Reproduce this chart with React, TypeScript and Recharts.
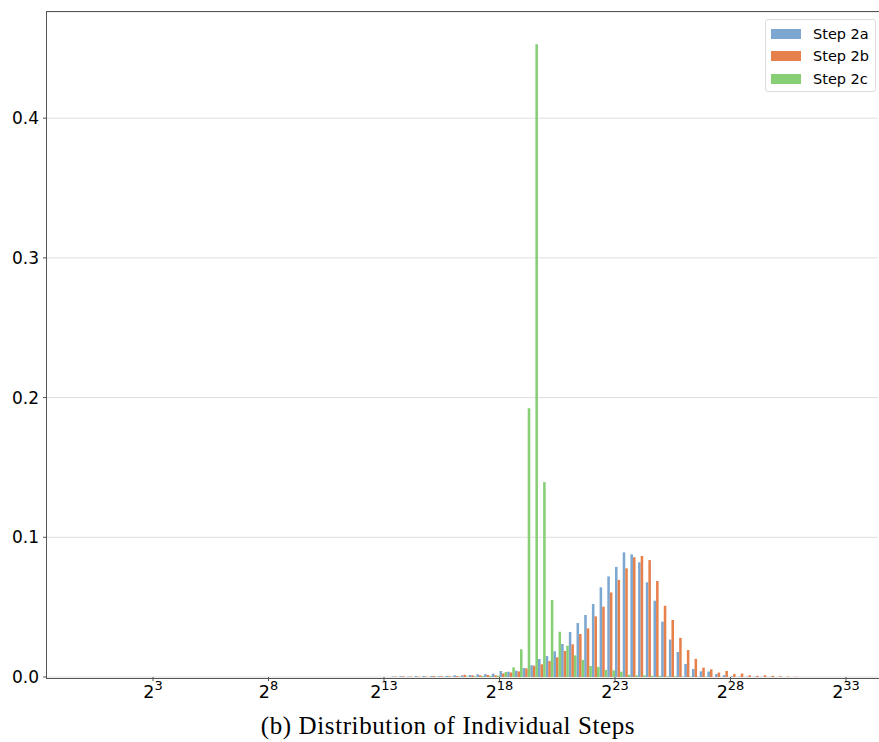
import React from 'react';
import { BarChart, Bar, XAxis, YAxis, CartesianGrid } from 'recharts';

// histogram bins: 98 bins of width 1/3 on the log2 scale, starting at 2^0
const BIN_COUNT = 98;
const BIN_WIDTH = 1 / 3;

// bin 0..39 are empty in every series, values listed from bin 0
const step2a = [
  0, 0, 0, 0, 0, 0, 0, 0, 0, 0, 0, 0, 0, 0,
  0, 0, 0, 0, 0, 0, 0, 0, 0, 0, 0, 0, 0, 0,
  0, 0, 0, 0, 0, 0, 0, 0, 0, 0, 0, 0,
  0.0003, 0.0005, 0.0003, 0.0007, 0.0007, 0.0007, 0.0005, 0.0007, 0.0012, 0.0012,
  0.0014, 0.0019, 0.0021, 0.0024, 0.0043, 0.0038, 0.0045, 0.0064, 0.0084, 0.0129,
  0.015, 0.0184, 0.0236, 0.0322, 0.0386, 0.0444, 0.0522, 0.0642, 0.072, 0.0788,
  0.0892, 0.0878, 0.0821, 0.0678, 0.0546, 0.0396, 0.0268, 0.0179, 0.0093, 0.0057,
  0.0041, 0.0039, 0.0021, 0.0013, 0.0005, 0.0003, 0.0002, 0.0002, 0.0001, 0.0001,
  0, 0, 0, 0, 0, 0, 0, 0,
];

const step2b = [
  0, 0, 0, 0, 0, 0, 0, 0, 0, 0, 0, 0, 0, 0,
  0, 0, 0, 0, 0, 0, 0, 0, 0, 0, 0, 0, 0, 0,
  0, 0, 0, 0, 0, 0, 0, 0, 0, 0, 0, 0,
  0.0003, 0.0005, 0.0003, 0.0003, 0.0003, 0.0007, 0.0005, 0.0005, 0.0007, 0.0016,
  0.0012, 0.0012, 0.0014, 0.0012, 0.0026, 0.0033, 0.004, 0.0062, 0.0081, 0.0091,
  0.0114, 0.0141, 0.0186, 0.0234, 0.0308, 0.0348, 0.0434, 0.0503, 0.0605, 0.0695,
  0.0778, 0.0857, 0.0866, 0.0837, 0.0687, 0.051, 0.0408, 0.028, 0.0193, 0.013,
  0.0067, 0.0055, 0.0032, 0.0043, 0.0021, 0.0025, 0.0012, 0.0008, 0.0012, 0.0008,
  0.0005, 0.0003, 0.0002, 0, 0, 0, 0, 0,
];

const step2c = [
  0, 0, 0, 0, 0, 0, 0, 0, 0, 0, 0, 0, 0, 0,
  0, 0, 0, 0, 0, 0, 0, 0, 0, 0, 0, 0, 0, 0,
  0, 0, 0, 0, 0, 0, 0, 0, 0, 0, 0, 0,
  0, 0, 0, 0, 0, 0.0002, 0.0002, 0.0002, 0.0003, 0.0003,
  0.0005, 0.0007, 0.0007, 0.001, 0.0036, 0.0069, 0.0198, 0.1923, 0.453, 0.1395,
  0.0551, 0.0324, 0.0224, 0.0155, 0.0122, 0.0079, 0.0072, 0.005, 0.0047, 0.0038,
  0.0016, 0.0012, 0.0012, 0.0008, 0.0008, 0.0005, 0.0005, 0.0003, 0.0003, 0.0002,
  0.0002, 0, 0, 0, 0, 0, 0, 0, 0, 0,
  0, 0, 0, 0, 0, 0, 0, 0,
];

const seriesNames = ['Step 2a', 'Step 2b', 'Step 2c'];
const seriesColors = ['#7ba7d1', '#e6814c', '#87cf75'];

const xTicks = [3, 8, 13, 18, 23, 28, 33];
const yTicks = [0, 0.1, 0.2, 0.3, 0.4];

const data = Array.from({ length: BIN_COUNT }, (_, i) => ({
  e: i * BIN_WIDTH + BIN_WIDTH / 2,
  a: step2a[i],
  b: step2b[i],
  c: step2c[i],
}));

const W = 879;
const H = 742;
const PLOT = { left: 47, top: 12, right: 878, bottom: 677 };

const PowerTick = (props: any) => {
  const { x, y, payload } = props;
  return (
    <text x={x} y={y + 15} textAnchor="middle" fill="#000" fontFamily="'DejaVu Sans', sans-serif" fontSize={17.5}>
      <tspan>2</tspan>
      <tspan dy={-8} fontSize={13}>{payload.value}</tspan>
    </text>
  );
};

export default function App() {
  return (
    <div style={{ position: 'absolute', left: 0, top: 0, width: W, height: H, background: '#fff' }}>
      <BarChart
        width={W}
        height={H}
        data={data}
        margin={{ top: PLOT.top, right: W - PLOT.right, bottom: 35, left: 0 }}
        barGap={0}
        barSize={2.55}
      >
        <CartesianGrid vertical={false} stroke="#dedede" strokeWidth={1} />
        <XAxis
          dataKey="e"
          type="number"
          domain={[-1.589, 34.385]}
          allowDataOverflow
          ticks={xTicks}
          tick={<PowerTick />}
          tickSize={4}
          tickLine={{ stroke: '#555' }}
          axisLine={false}
          height={30}
        />
        <YAxis
          domain={[0, 0.476]}
          allowDataOverflow
          ticks={yTicks}
          tickFormatter={(v: number) => v.toFixed(1)}
          tick={{ fill: '#000', fontSize: 17, fontFamily: "'DejaVu Sans', sans-serif" }}
          tickSize={4}
          tickMargin={4}
          tickLine={{ stroke: '#555' }}
          axisLine={false}
          width={PLOT.left}
        />
        <Bar dataKey="a" name={seriesNames[0]} fill={seriesColors[0]} isAnimationActive={false} />
        <Bar dataKey="b" name={seriesNames[1]} fill={seriesColors[1]} isAnimationActive={false} />
        <Bar dataKey="c" name={seriesNames[2]} fill={seriesColors[2]} isAnimationActive={false} />
      </BarChart>

      {/* axes frame */}
      <div
        style={{
          position: 'absolute',
          left: PLOT.left - 1,
          top: PLOT.top - 1,
          width: PLOT.right - PLOT.left + 1,
          height: PLOT.bottom - PLOT.top + 1,
          border: '1px solid #555',
          pointerEvents: 'none',
        }}
      />

      {/* legend */}
      <div
        style={{
          position: 'absolute',
          left: 765,
          top: 19,
          width: 109,
          height: 71,
          border: '1px solid #dcdcdc',
          borderRadius: 3,
          background: 'rgba(255,255,255,0.8)',
          fontFamily: "'DejaVu Sans', sans-serif",
          fontSize: 14.5,
          color: '#000',
        }}
      >
        {seriesNames.map((name, i) => (
          <div
            key={name}
            style={{ position: 'absolute', left: 5, top: 7 + i * 22.3, height: 14, display: 'flex', alignItems: 'center' }}
          >
            <div style={{ width: 30, height: 10, background: seriesColors[i] }} />
            <span style={{ marginLeft: 12, lineHeight: '14px' }}>{name}</span>
          </div>
        ))}
      </div>

      {/* caption */}
      <div
        style={{
          position: 'absolute',
          left: 0,
          width: W,
          top: 712,
          textAlign: 'center',
          fontFamily: "'Liberation Serif', serif",
          fontSize: 25,
          letterSpacing: 0.6,
          lineHeight: '28px',
          color: '#000',
          paddingLeft: 17,
          boxSizing: 'border-box',
        }}
      >
        (b) Distribution of Individual Steps
      </div>
    </div>
  );
}
